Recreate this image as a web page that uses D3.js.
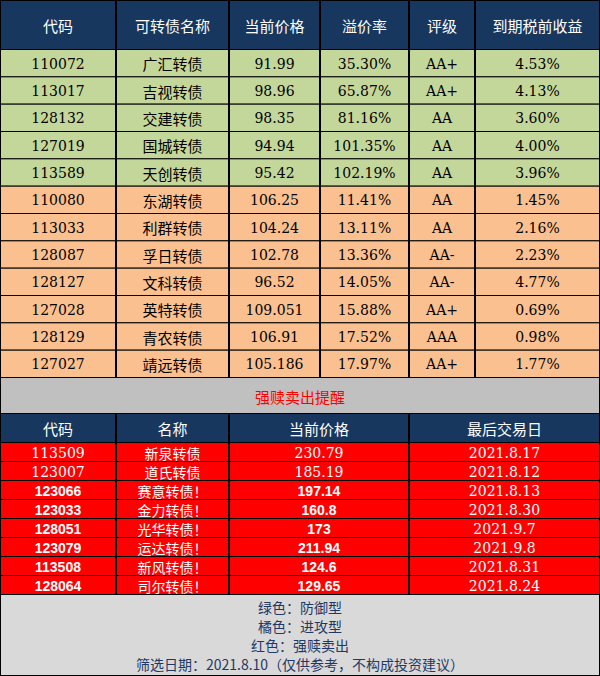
<!DOCTYPE html>
<html>
<head>
<meta charset="utf-8">
<style>
  body { margin: 0; background: #fff; }
  text { dominant-baseline: central; text-anchor: middle; }
</style>
</head>
<body>
<svg></svg>
<script src="https://d3js.org/d3.v7.min.js"></script>
<script>
// top table
const topHeaders = ["代码", "可转债名称", "当前价格", "溢价率", "评级", "到期税前收益"];
const codes = ["110072","113017","128132","127019","113589","110080","113033","128087","128127","127028","128129","127027"];
const names = ["广汇转债","吉视转债","交建转债","国城转债","天创转债","东湖转债","利群转债","孚日转债","文科转债","英特转债","青农转债","靖远转债"];
const prices = ["91.99","98.96","98.35","94.94","95.42","106.25","104.24","102.78","96.52","109.051","106.91","105.186"];
const premiums = ["35.30%","65.87%","81.16%","101.35%","102.19%","11.41%","13.11%","13.36%","14.05%","15.88%","17.52%","17.97%"];
const ratings = ["AA+","AA+","AA","AA","AA","AA","AA","AA-","AA-","AA+","AAA","AA+"];
const yields = ["4.53%","4.13%","3.60%","4.00%","3.96%","1.45%","2.16%","2.23%","4.77%","0.69%","0.98%","1.77%"];
const groups = ["防御","防御","防御","防御","防御","进攻","进攻","进攻","进攻","进攻","进攻","进攻"];

// redemption table
const redHeaders = ["代码", "名称", "当前价格", "最后交易日"];
const redCodes = ["113509","123007","123066","123033","128051","123079","113508","128064"];
const redNames = ["新泉转债","道氏转债","赛意转债！","金力转债！","光华转债！","运达转债！","新风转债！","司尔转债！"];
const redPrices = ["230.79","185.19","197.14","160.8","173","211.94","124.6","129.65"];
const redDates = ["2021.8.17","2021.8.12","2021.8.13","2021.8.30","2021.9.7","2021.9.8","2021.8.31","2021.8.24"];

const notes = ["绿色：防御型","橘色：进攻型","红色：强赎卖出","筛选日期：2021.8.10（仅供参考，不构成投资建议）"];

const width = 600, height = 676;
const svg = d3.select("svg").attr("width", width).attr("height", height);

const cjk = "'Noto Sans CJK SC', sans-serif";
const mono = "'DejaVu Serif', serif";
const navy = "#17375e";
const fill = { "防御": "#c4d79b", "进攻": "#fac090" };

const topEdges = [0, 116, 229, 320, 409, 475, 600];
const redEdges = [0, 116, 229, 409, 600];

function cell(x0, x1, y0, y1, bg, txt, color, font, size, weight) {
  svg.append("rect").attr("x", x0 + 0.5).attr("y", y0 + 0.5)
    .attr("width", x1 - x0 - 1).attr("height", y1 - y0)
    .attr("fill", bg).attr("stroke", "#000").attr("stroke-width", 1);
  svg.append("text").attr("x", (x0 + x1) / 2).attr("y", (y0 + y1) / 2 + 1)
    .attr("fill", color).attr("font-family", font).attr("font-size", size)
    .attr("font-weight", weight || "normal").text(txt);
}

// top header
topHeaders.forEach((h, i) => cell(topEdges[i], topEdges[i + 1], 0, 49, navy, h, "#fff", cjk, 15));

const yTop = d3.scaleBand().domain(d3.range(codes.length)).range([49, 377]);
codes.forEach((c, r) => {
  const vals = [c, names[r], prices[r], premiums[r], ratings[r], yields[r]];
  const y0 = yTop(r), y1 = y0 + yTop.bandwidth();
  vals.forEach((v, i) => cell(topEdges[i], topEdges[i + 1], y0, y1, fill[groups[r]], v, "#000",
    i === 1 ? cjk : mono, i === 1 ? 15 : 14));
});

// gray band
cell(0, 600, 377, 413, "#c0c0c0", "强赎卖出提醒", "#ff0000", cjk, 15);

// red header
redHeaders.forEach((h, i) => cell(redEdges[i], redEdges[i + 1], 413, 442, navy, h, "#fff", cjk, 15));

const yRed = d3.scaleBand().domain(d3.range(redCodes.length)).range([442, 594]);
redCodes.forEach((c, r) => {
  const bold = redNames[r].endsWith("！");
  const y0 = yRed(r), y1 = y0 + yRed.bandwidth();
  const vals = [c, redNames[r], redPrices[r], redDates[r]];
  vals.forEach((v, i) => {
    const sans = bold && (i === 0 || i === 2);
    cell(redEdges[i], redEdges[i + 1], y0, y1, "#ff0000", v, "#fff",
      i === 1 ? cjk : (sans ? "'Liberation Sans', sans-serif" : mono),
      i === 1 ? 14 : 14, sans ? "bold" : "normal");
  });
});

// footer
svg.append("rect").attr("x", 0.5).attr("y", 594.5).attr("width", 599).attr("height", 81)
  .attr("fill", "#d9d9d9").attr("stroke", "#000");
const yNote = d3.scaleBand().domain(d3.range(notes.length)).range([597, 674]);
svg.selectAll(".note").data(notes).join("text")
  .attr("class", "note")
  .attr("x", width / 2)
  .attr("y", (d, i) => yNote(i) + yNote.bandwidth() / 2)
  .attr("fill", "#1f3864").attr("font-family", cjk).attr("font-size", 14)
  .text(d => d);
</script>
</body>
</html>
